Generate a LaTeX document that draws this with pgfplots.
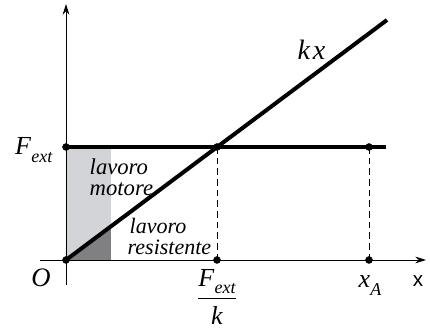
\documentclass[border=0pt]{standalone}
\usepackage{pgfplots}
\pgfplotsset{compat=1.18}
\usepackage{fontspec}
\setmainfont{Liberation Serif}
\newfontfamily\sansx{Liberation Sans}
\usetikzlibrary{arrows.meta}
\definecolor{lightfill}{RGB}{211,212,216}
\definecolor{darkfill}{RGB}{128,128,130}
\newcommand{\Fext}{\textit{F}\raisebox{-0.6ex}{\fontsize{13.5}{13.5}\selectfont\itshape ext}}

\begin{document}
\begin{tikzpicture}
\begin{axis}[
  scale only axis, width=322.5pt, height=240pt,
  xmin=-66, xmax=364, ymin=-60, ymax=260,
  hide axis, clip=false,
  every node/.append style={inner sep=0pt},
]
\path (rel axis cs:0,0) rectangle (rel axis cs:1,1);
% shaded work areas
\addplot[fill=lightfill, draw=none] coordinates {(0,0)(45,0)(45,113)(0,113)(0,0)};
\addplot[fill=darkfill, draw=none] coordinates {(0,0)(45,0)(45,33.7)(0,0)};
% axes
\addplot[line width=0.6pt, -{Stealth[length=8pt,width=5pt]}] coordinates {(-26,0)(360,0)};
\addplot[line width=0.6pt, -{Stealth[length=8pt,width=5pt]}] coordinates {(0,-25)(0,256)};
% dashed guides
\addplot[line width=0.6pt, dash pattern=on 5pt off 3pt] coordinates {(151,113)(151,0)};
\addplot[line width=0.6pt, dash pattern=on 5pt off 3pt] coordinates {(303,113)(303,0)};
% force lines
\addplot[line width=3pt] coordinates {(0,113)(320,113)};
\addplot[line width=3pt] coordinates {(0,0)(321,240)};
\addplot[only marks, mark=*, mark size=2.6pt] coordinates {(0,0)(0,113)(151,113)(303,113)(151,0)(303,0)};
% labels
\node[anchor=base east, font=\fontsize{19.5}{19.5}\selectfont] at (axis cs:-9,105) {\Fext};
\node[anchor=base, font=\fontsize{20}{20}\selectfont\itshape] at (axis cs:-25,-27) {O};
\node[anchor=base west, font=\fontsize{17}{17}\selectfont\itshape] at (axis cs:19,85.5) {lavoro};
\node[anchor=base west, font=\fontsize{17}{17}\selectfont\itshape] at (axis cs:19,64.5) {motore};
\node[anchor=base west, font=\fontsize{16.5}{16.5}\selectfont\itshape] at (axis cs:59,26) {lavoro};
\node[anchor=base west, font=\fontsize{16.5}{16.5}\selectfont\itshape] at (axis cs:57,5.5) {resistente};
\node[anchor=base west, font=\fontsize{21}{21}\selectfont\itshape] at (axis cs:227,200) {k\hspace{2pt}x};
\node[font=\fontsize{19.5}{19.5}\selectfont] at (axis cs:151,-37) {$\displaystyle\frac{\mbox{\Fext}}{\mbox{\itshape k}}$};
\node[anchor=base, font=\fontsize{19.5}{19.5}\selectfont] at (axis cs:304,-28) {\textit{x}\raisebox{-0.6ex}{\fontsize{13.5}{13.5}\selectfont\itshape A}};
\node[font=\fontsize{15.5}{15.5}\selectfont\sansx] at (axis cs:352,-21) {x};
\end{axis}
\end{tikzpicture}
\end{document}
